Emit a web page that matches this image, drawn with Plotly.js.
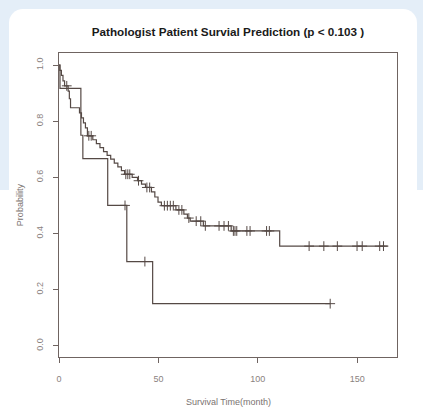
<!DOCTYPE html>
<html><head><meta charset="utf-8">
<script src="https://cdn.plot.ly/plotly-3.0.1.min.js"></script>
<style>
html,body{margin:0;padding:0;width:423px;height:408px;overflow:hidden;background:#ffffff;}
#bgblue{position:absolute;left:0;top:0;width:423px;height:190px;background:#e4eef8;}
#card{position:absolute;left:9px;top:9px;width:408px;height:430px;background:#ffffff;border-radius:14px;}
#chart{position:absolute;left:0;top:0;width:423px;height:408px;}
</style></head>
<body>
<div id="bgblue"></div><div id="card"></div>
<div id="chart"></div>
<script>
// Group A (larger group)
const aTimes = [0.4, 1.2, 2.0, 2.8, 4.6, 5.2, 5.8, 10.3, 11.3, 12.3, 13.3, 14.3, 17.0, 18.8, 20.6, 22.4, 24.2, 26.0, 27.8, 29.6, 31.4, 33.0, 36.8, 39.5, 41.5, 43.5, 46.5, 48.2, 49.8, 51.5, 58.8, 62.8, 64.6, 66.0, 72.6, 86.6, 111.0];
const aSurv  = [0.981, 0.963, 0.944, 0.926, 0.907, 0.880, 0.848, 0.830, 0.812, 0.794, 0.776, 0.748, 0.734, 0.720, 0.706, 0.692, 0.678, 0.665, 0.651, 0.637, 0.624, 0.611, 0.600, 0.588, 0.576, 0.564, 0.548, 0.530, 0.512, 0.499, 0.484, 0.469, 0.455, 0.444, 0.427, 0.409, 0.355];
const aCensor = [3.9, 15.0, 16.2, 33.6, 34.6, 35.6, 40.0, 44.2, 45.6, 53.0, 54.5, 56.0, 57.5, 60.3, 61.8, 65.3, 69.0, 71.3, 73.6, 80.5, 83.0, 85.2, 87.7, 88.5, 89.4, 94.5, 96.1, 104.4, 105.8, 125.8, 133.2, 140.0, 149.9, 152.5, 161.3, 163.2];
const aEnd = 165.3;
// Group B (smaller group)
const bTimes = [0.5, 11.0, 12.0, 24.5, 34.1, 47.1];
const bSurv  = [0.917, 0.750, 0.667, 0.500, 0.300, 0.150];
const bCensor = [33.2, 43.2, 136.4];
const bEnd = 136.4;

const xTicks = [0, 50, 100, 150];
const yTicks = [0, 0.2, 0.4, 0.6, 0.8, 1.0];
const yTickText = ["0.0", "0.2", "0.4", "0.6", "0.8", "1.0"];

function stepPath(times, surv, end){
  const x=[0], y=[1];
  for(let i=0;i<times.length;i++){ x.push(times[i]); y.push(surv[i]); }
  x.push(end); y.push(surv[surv.length-1]);
  return {x, y};
}
function survAt(times, surv, t){
  let s=1;
  for(let i=0;i<times.length;i++){ if(times[i]<=t) s=surv[i]; }
  return s;
}
const lineCol = '#554945';
const pA = stepPath(aTimes, aSurv, aEnd);
const pB = stepPath(bTimes, bSurv, bEnd);
const traces = [
  {x:pA.x, y:pA.y, mode:'lines', line:{shape:'hv', color:lineCol, width:1.2}, hoverinfo:'skip'},
  {x:pB.x, y:pB.y, mode:'lines', line:{shape:'hv', color:lineCol, width:1.2}, hoverinfo:'skip'},
  {x:aCensor, y:aCensor.map(t=>survAt(aTimes,aSurv,t)), mode:'markers',
   marker:{symbol:'cross-thin-open', size:7, color:lineCol, line:{color:lineCol, width:1}}, hoverinfo:'skip'},
  {x:bCensor, y:bCensor.map(t=>survAt(bTimes,bSurv,t)), mode:'markers',
   marker:{symbol:'cross-thin-open', size:7, color:lineCol, line:{color:lineCol, width:1}}, hoverinfo:'skip'}
];
const tickFont = {family:'Liberation Sans, Arial, sans-serif', size:9, color:'#8a8280'};
const layout = {
  width:423, height:408,
  margin:{l:59, r:26, t:53, b:51},
  paper_bgcolor:'rgba(0,0,0,0)', plot_bgcolor:'#ffffff',
  showlegend:false,
  title:{text:'<b>Pathologist Patient Survial Prediction (p < 0.103 )</b>',
         font:{family:'Liberation Sans, Arial, sans-serif', size:11.7, color:'#1a1a1a'},
         x:0.539, xanchor:'center', y:0.923, yanchor:'middle'},
  xaxis:{range:[0,170], tickvals:xTicks, ticktext:xTicks.map(String), ticks:'outside', ticklen:5,
         tickcolor:'#6f6461', tickwidth:1, showgrid:false, zeroline:false,
         showline:true, mirror:true, linecolor:'#6f6461', linewidth:1.3,
         tickfont:tickFont, ticklabelstandoff:8},
  yaxis:{range:[-0.04,1.043], tickvals:yTicks, ticktext:yTickText, ticks:'outside', ticklen:5,
         tickcolor:'#6f6461', tickwidth:1, showgrid:false, zeroline:false,
         showline:true, mirror:true, linecolor:'#6f6461', linewidth:1.3,
         tickfont:tickFont, tickangle:-90, ticklabelstandoff:6},
  annotations:[
    {text:'Survival Time(month)', xref:'paper', yref:'paper', x:0.5, y:-0.147, xanchor:'center', yanchor:'middle',
     showarrow:false, font:{family:'Liberation Sans, Arial, sans-serif', size:9, color:'#7a7270'}},
    {text:'Probability', xref:'paper', yref:'paper', x:-0.115, y:0.5, xanchor:'center', yanchor:'middle',
     textangle:-90, showarrow:false, font:{family:'Liberation Sans, Arial, sans-serif', size:9, color:'#7a7270'}}
  ]
};
Plotly.newPlot('chart', traces, layout, {staticPlot:true, displayModeBar:false});
</script>
</body></html>
